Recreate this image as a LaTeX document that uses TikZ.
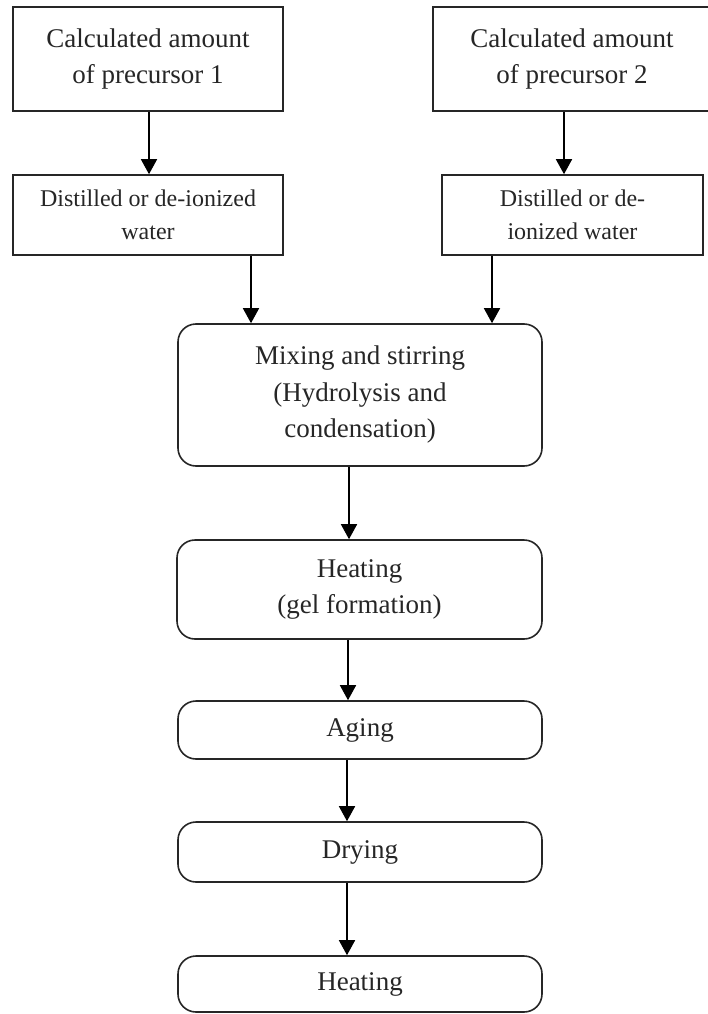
\documentclass[tikz,border=0pt]{standalone}
\usepackage{fontspec}
\setmainfont{Liberation Serif}
\usetikzlibrary{arrows.meta}
\begin{document}
\begin{tikzpicture}[x=1pt,y=-1pt,
  box/.style={draw=black!85, line width=1.6pt, align=center, inner sep=0pt,
    text=black!85, font=\fontsize{27}{36.5}\selectfont},
  smallbox/.style={box, font=\fontsize{24}{33}\selectfont},
  roundbox/.style={box, rounded corners=18pt},
  arr/.style={draw=black, line width=1.6pt, -{Triangle[length=15pt,width=16pt]}}]
\useasboundingbox (0,0) rectangle (708,1014);

% precursors
\node[box, minimum width=270pt, minimum height=104pt] (p1) at (148,59)
  {Calculated amount\\of precursor 1};
\node[box, minimum width=278pt, minimum height=104pt] (p2) at (572,59)
  {Calculated amount\\of precursor 2};

% solvents
\node[smallbox, minimum width=270pt, minimum height=80pt] (w1) at (148,215)
  {Distilled or de-ionized\\water};
\node[smallbox, minimum width=261pt, minimum height=80pt] (w2) at (572.5,215)
  {Distilled or de-\\ionized water};

% process steps
\node[roundbox, minimum width=364pt, minimum height=142pt] (mix) at (360,395)
  {Mixing and stirring\\(Hydrolysis and\\condensation)};
\node[roundbox, minimum width=365pt, minimum height=99pt] (gel) at (359.5,589.5)
  {Heating\\(gel formation)};
\node[roundbox, minimum width=364pt, minimum height=58pt] (age) at (360,730)
  {Aging};
\node[roundbox, minimum width=364pt, minimum height=60pt] (dry) at (360,852)
  {Drying};
\node[roundbox, minimum width=364pt, minimum height=56pt] (heat) at (360,984)
  {Heating};

% connector anchor points
\coordinate (c1) at ([xshift=1pt]p1.south);
\coordinate (c2) at ([xshift=-8pt]p2.south);
\coordinate (c3) at ([xshift=103pt]w1.south);
\coordinate (c4) at ([xshift=-80.5pt]w2.south);
\coordinate (c5) at ([xshift=-11pt]mix.south);
\coordinate (c6) at ([xshift=-11.5pt]gel.south);
\coordinate (c7) at ([xshift=-13pt]age.south);
\coordinate (c8) at ([xshift=-13pt]dry.south);

\draw[arr] (c1) -- (c1 |- w1.north);
\draw[arr] (c2) -- (c2 |- w2.north);
\draw[arr] (c3) -- (c3 |- mix.north);
\draw[arr] (c4) -- (c4 |- mix.north);
\draw[arr] (c5) -- (c5 |- gel.north);
\draw[arr] (c6) -- (c6 |- age.north);
\draw[arr] (c7) -- (c7 |- dry.north);
\draw[arr] (c8) -- (c8 |- heat.north);
\end{tikzpicture}
\end{document}
